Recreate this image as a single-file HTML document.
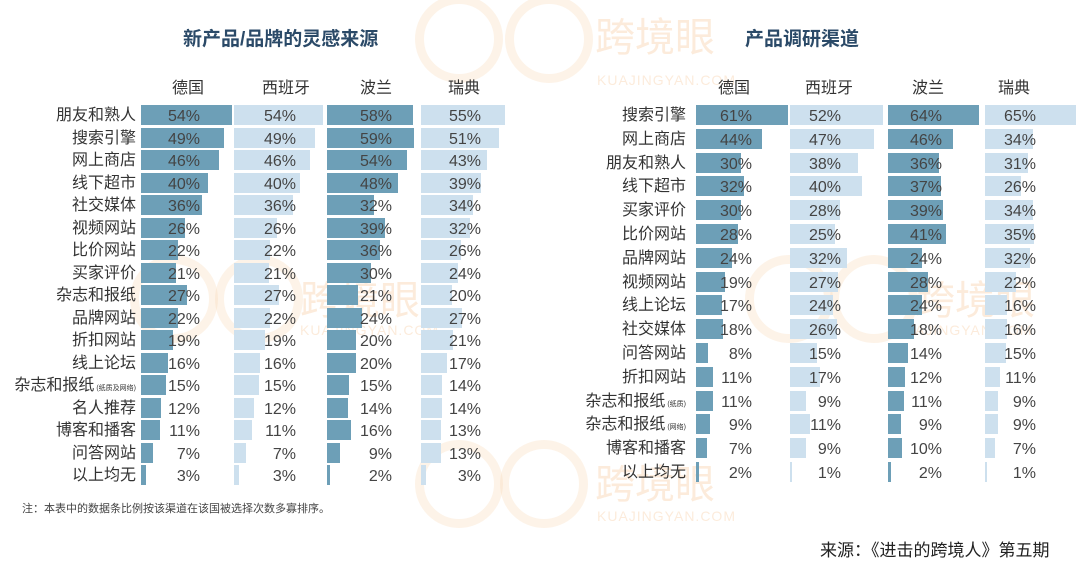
<!DOCTYPE html>
<html><head><meta charset="utf-8"><style>
body{margin:0;width:1080px;height:575px;background:#fff;position:relative;overflow:hidden;font-family:"Liberation Sans","Noto Sans CJK SC",sans-serif;color:#333}
.a{position:absolute;white-space:nowrap}
.t{font-weight:bold;font-size:19px;color:#2b4a68}
.h{font-size:16px;color:#333}
.l{font-size:16px;text-align:right;color:#333;line-height:20px}
.p{font-size:16px;text-align:right;color:#444;line-height:20px}
.wm{color:#f7c89a;opacity:.35;font-size:40px}
.wm2{color:#f7c89a;opacity:.35;font-size:14px;letter-spacing:1px}
.c{border:9px solid #f9d7b4;border-radius:50%;opacity:.3}
</style></head><body>
<div class="a c" style="left:415px;top:-5px;width:70px;height:70px"></div>
<div class="a c" style="left:505px;top:-5px;width:70px;height:70px"></div>
<div class="a wm" style="left:595px;top:5px">跨境眼</div>
<div class="a wm2" style="left:597px;top:72px">KUAJINGYAN.COM</div>
<div class="a c" style="left:130px;top:255px;width:70px;height:70px"></div>
<div class="a c" style="left:215px;top:255px;width:70px;height:70px"></div>
<div class="a wm" style="left:300px;top:268px">跨境眼</div>
<div class="a wm2" style="left:300px;top:322px">KUAJINGYAN.COM</div>
<div class="a c" style="left:745px;top:255px;width:70px;height:70px"></div>
<div class="a c" style="left:830px;top:255px;width:70px;height:70px"></div>
<div class="a wm" style="left:915px;top:268px">跨境眼</div>
<div class="a wm2" style="left:915px;top:322px">AJINGYAN.COM</div>
<div class="a c" style="left:415px;top:440px;width:70px;height:70px"></div>
<div class="a c" style="left:500px;top:440px;width:70px;height:70px"></div>
<div class="a wm" style="left:595px;top:452px">跨境眼</div>
<div class="a wm2" style="left:597px;top:508px">KUAJINGYAN.COM</div>

<div class="a t" style="left:183px;top:24px">新产品/品牌的灵感来源</div>
<div class="a t" style="left:745px;top:24px">产品调研渠道</div>
<div class="a" style="left:22px;top:500px;font-size:11px;color:#444">注：本表中的数据条比例按该渠道在该国被选择次数多寡排序。</div>
<div class="a" style="left:820px;top:536px;font-size:17px;color:#222">来源：《进击的跨境人》第五期</div>
<script>
function draw(opt){
 var r=document.body,h='';
 opt.heads.forEach(function(s,i){h+='<div class="a h" style="left:'+opt.hx[i]+'px;top:74px">'+s+'</div>';});
 opt.rows.forEach(function(row,j){
  var y=opt.y0+j*opt.pitch;
  h+='<div class="a l" style="right:'+(1080-opt.lr)+'px;top:'+(y-9)+'px">'+row[0]+'</div>';
  for(var i=0;i<4;i++){
   var v=row[i+1],w=Math.max(2,v/opt.max[i]*opt.W[i]);
   var col=(i%2==0)?'#6d9fb7':'#cde0ee';
   h+='<div class="a" style="left:'+opt.cx[i]+'px;top:'+(y-10)+'px;width:'+w+'px;height:20px;background:'+col+'"></div>';
   h+='<div class="a p" style="right:'+(1080-opt.cx[i]-opt.to[i])+'px;top:'+(y-8)+'px">'+v+'%</div>';
  }
 });
 r.insertAdjacentHTML('beforeend',h);
}
var heads=['德国','西班牙','波兰','瑞典'];
draw({heads:heads,hx:[172,262,360,448],lr:136,y0:115,pitch:22.5,cx:[141,234,327,421],W:[91,89,87,84],max:[54,54,59,55],to:[59,62,65,60],
rows:[['朋友和熟人',54,54,58,55],['搜索引擎',49,49,59,51],['网上商店',46,46,54,43],['线下超市',40,40,48,39],['社交媒体',36,36,32,34],['视频网站',26,26,39,32],['比价网站',22,22,36,26],['买家评价',21,21,30,24],['杂志和报纸',27,27,21,20],['品牌网站',22,22,24,27],['折扣网站',19,19,20,21],['线上论坛',16,16,20,17],['杂志和报纸<span style="font-size:7px"> (纸质及网络)</span>',15,15,15,14],['名人推荐',12,12,14,14],['博客和播客',11,11,16,13],['问答网站',7,7,9,13],['以上均无',3,3,2,3]]});
draw({heads:heads,hx:[718,805,912,998],lr:686,y0:115,pitch:23.8,cx:[696,790,888,985],W:[92,93,91,91],max:[61,52,64,65],to:[56,51,54,51],
rows:[['搜索引擎',61,52,64,65],['网上商店',44,47,46,34],['朋友和熟人',30,38,36,31],['线下超市',32,40,37,26],['买家评价',30,28,39,34],['比价网站',28,25,41,35],['品牌网站',24,32,24,32],['视频网站',19,27,28,22],['线上论坛',17,24,24,16],['社交媒体',18,26,18,16],['问答网站',8,15,14,15],['折扣网站',11,17,12,11],['杂志和报纸<span style="font-size:7px"> (纸质)</span>',11,9,11,9],['杂志和报纸<span style="font-size:7px"> (网络)</span>',9,11,9,9],['博客和播客',7,9,10,7],['以上均无',2,1,2,1]]});
</script>
</body></html>
